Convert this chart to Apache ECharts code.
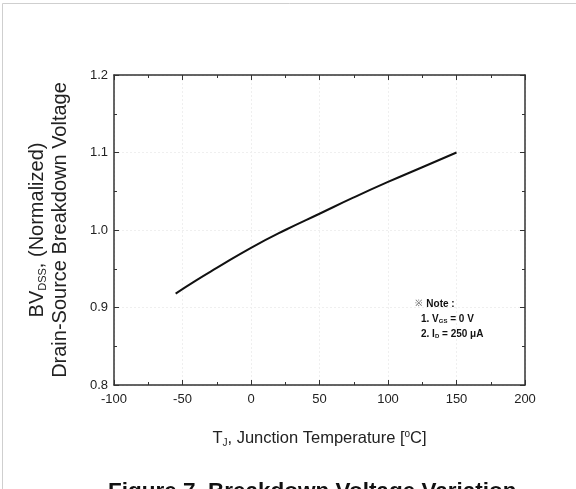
<!DOCTYPE html>
<html>
<head>
<meta charset="UTF-8">
<script src="https://cdn.jsdelivr.net/npm/echarts@6/dist/echarts.min.js"></script>
<style>html,body{margin:0;padding:0;background:#fff;}</style>
</head>
<body>
<div id="main" style="width:576px;height:489px;"></div>
<script>
var temps = [-55, -40, -25, 0, 25, 50, 75, 100, 125, 150];
var bvdss = [0.918, 0.935, 0.951, 0.977, 1.000, 1.021, 1.042, 1.062, 1.081, 1.100];
var xTicks = [-100, -50, 0, 50, 100, 150, 200];
var yTicks = [0.8, 0.9, 1.0, 1.1, 1.2];

var chart = echarts.init(document.getElementById('main'));
var ff = 'Liberation Sans, Arial, sans-serif';

function richText(big, small, lift) {
  return {
    a: { fontSize: big, fontFamily: ff, color: '#222' },
    s: { fontSize: small, fontFamily: ff, color: '#222', padding: [lift, 0, 0, 0] },
    p: { fontSize: small, fontFamily: ff, color: '#222', padding: [0, 0, lift, 0] }
  };
}

function axisCommon() {
  return {
    axisLine: { show: true, onZero: false, lineStyle: { color: '#333', width: 1.5 } },
    axisTick: { show: true, inside: true, length: 5, lineStyle: { color: '#333' } },
    minorTick: { show: true, splitNumber: 2, length: 3, lineStyle: { color: '#333' } }
  };
}

var option = {
  animation: false,
  backgroundColor: '#fff',
  grid: { left: 114, right: 51, top: 75, bottom: 104 },
  xAxis: [
    Object.assign({
      type: 'value', min: xTicks[0], max: xTicks[xTicks.length - 1], interval: 50,
      position: 'bottom',
      axisLabel: { color: '#222', fontSize: 13, fontFamily: ff, margin: 8 },
      splitLine: { show: true, lineStyle: { color: '#efefef', type: [2, 2], width: 1 } },
      name: '{a|T}{s|J}{a|, Junction Temperature [}{p|o}{a|C]}',
      nameLocation: 'middle', nameGap: 44,
      nameTextStyle: { rich: richText(16.5, 10, 9) }
    }, axisCommon()),
    Object.assign({
      type: 'value', min: -100, max: 200, interval: 50, position: 'top',
      axisLabel: { show: false }, splitLine: { show: false }
    }, axisCommon())
  ],
  yAxis: [
    Object.assign({
      type: 'value', min: yTicks[0], max: yTicks[yTicks.length - 1], interval: 0.1,
      position: 'left',
      axisLabel: { color: '#222', fontSize: 13, fontFamily: ff, margin: 6,
        formatter: function (v) { return v.toFixed(1); } },
      splitLine: { show: true, lineStyle: { color: '#efefef', type: [2, 2], width: 1 } },
      name: '{a|BV}{s|DSS}{a|, (Normalized)}\n{a|Drain-Source Breakdown Voltage}',
      nameLocation: 'middle', nameGap: 42, nameRotate: 90,
      nameTextStyle: { rich: richText(20, 11, 10), align: 'center', lineHeight: 23 }
    }, axisCommon()),
    Object.assign({
      type: 'value', min: 0.8, max: 1.2, interval: 0.1, position: 'right',
      axisLabel: { show: false }, splitLine: { show: false }
    }, axisCommon())
  ],
  graphic: [
    { type: 'rect', shape: { x: 2.5, y: 3.5, width: 600, height: 600 }, silent: true,
      style: { fill: 'none', stroke: '#cfcfcf', lineWidth: 1 } },
    { type: 'text', left: 415, top: 298, style: {
      text: '{m|※} {b|Note :}', rich: {
        m: { fontSize: 9, fontFamily: ff, fill: '#555' },
        b: { fontSize: 10, fontWeight: 'bold', fontFamily: ff, fill: '#111' } } } },
    { type: 'text', left: 421, top: 314, style: {
      text: '{b|1. V}{s|GS}{b| = 0 V}', rich: {
        b: { fontSize: 10, fontWeight: 'bold', fontFamily: ff, fill: '#111' },
        s: { fontSize: 6, fontWeight: 'bold', fontFamily: ff, fill: '#111', padding: [5, 0, 0, 0] } } } },
    { type: 'text', left: 421, top: 329, style: {
      text: '{b|2. I}{s|D}{b| = 250 μA}', rich: {
        b: { fontSize: 10, fontWeight: 'bold', fontFamily: ff, fill: '#111' },
        s: { fontSize: 6, fontWeight: 'bold', fontFamily: ff, fill: '#111', padding: [5, 0, 0, 0] } } } },
    { type: 'text', left: 108, top: 480, style: {
      text: 'Figure 7. Breakdown Voltage Variation', fontSize: 22.5, fontWeight: 'bold',
      fontFamily: ff, fill: '#111' } }
  ],
  series: [{
    type: 'line',
    data: temps.map(function (t, i) { return [t, bvdss[i]]; }),
    smooth: true, showSymbol: false,
    lineStyle: { color: '#111', width: 2 }
  }]
};
chart.setOption(option);
</script>
</body>
</html>
